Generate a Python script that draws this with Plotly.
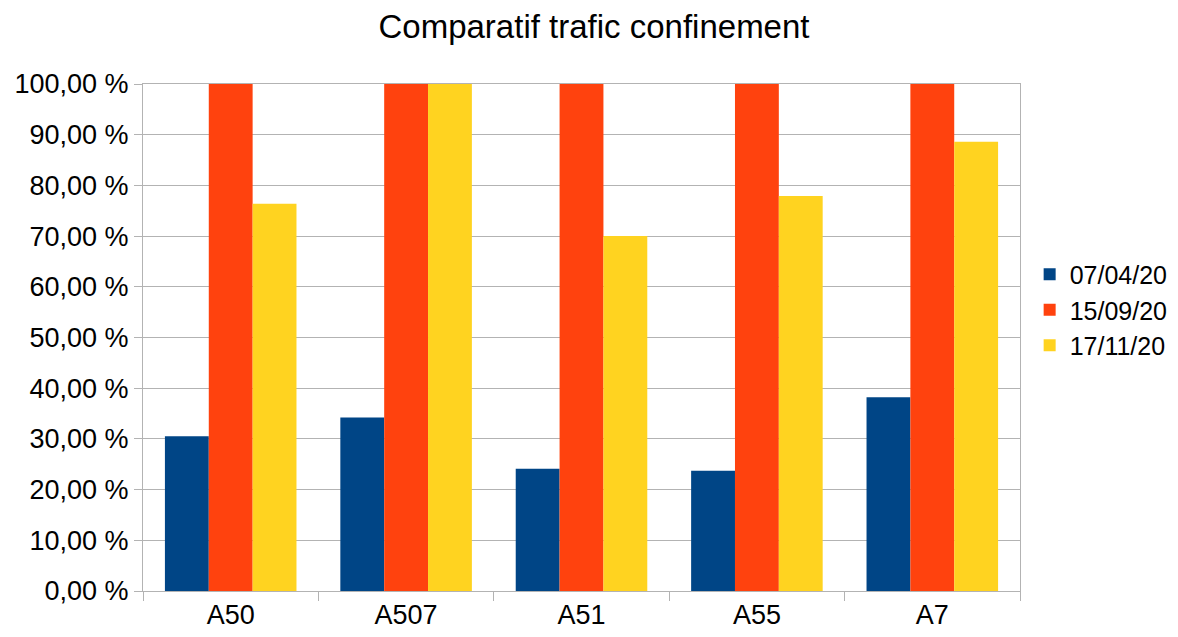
import plotly.graph_objects as go

categories = ["A50", "A507", "A51", "A55", "A7"]
series_names = ["07/04/20", "15/09/20", "17/11/20"]
values_0704 = [30.5, 34.2, 24.1, 23.7, 38.2]
values_1509 = [100.0, 100.0, 100.0, 100.0, 100.0]
values_1711 = [76.4, 100.0, 70.0, 77.9, 88.6]
colors = ["#004586", "#ff420e", "#ffd320"]

fig = go.Figure()
for name, vals, col in zip(series_names, [values_0704, values_1509, values_1711], colors):
    fig.add_trace(go.Bar(x=categories, y=vals, name=name, marker=dict(color=col, line=dict(width=0))))

font = "Liberation Sans, Arial, sans-serif"
W, H = 1162, 621
fig.update_layout(
    width=W, height=H,
    margin=dict(l=135, r=150, t=76, b=38, autoexpand=False),
    paper_bgcolor="white", plot_bgcolor="white",
    title=dict(text="Comparatif trafic confinement", x=586 / W, xref="container", xanchor="center",
               y=1 - 18 / H, yref="container", yanchor="middle",
               font=dict(family=font, size=33, color="#000000")),
    barmode="group", bargap=0.25, bargroupgap=0,
    separators=", ",
    font=dict(family=font, color="#000000"),
    legend=dict(x=1.011, y=0.554, xanchor="left", yanchor="middle", font=dict(size=25),
                itemsizing="constant", tracegroupgap=0, borderwidth=0),
    showlegend=True,
)
fig.update_yaxes(range=[0, 100], dtick=10, tickformat=".2f", ticksuffix=" %",
                 showgrid=True, gridcolor="#b3b3b3", gridwidth=1,
                 showline=True, linecolor="#b3b3b3", linewidth=1, mirror=True,
                 ticks="outside", ticklen=8, tickcolor="#b3b3b3",
                 tickfont=dict(size=27), zeroline=False, automargin=False)
fig.update_xaxes(showgrid=False, showline=True, linecolor="#b3b3b3", linewidth=1, mirror=True,
                 ticks="outside", tickson="boundaries", ticklen=9, tickcolor="#b3b3b3",
                 tickfont=dict(size=27), automargin=False)
fig.write_html("out.html")
